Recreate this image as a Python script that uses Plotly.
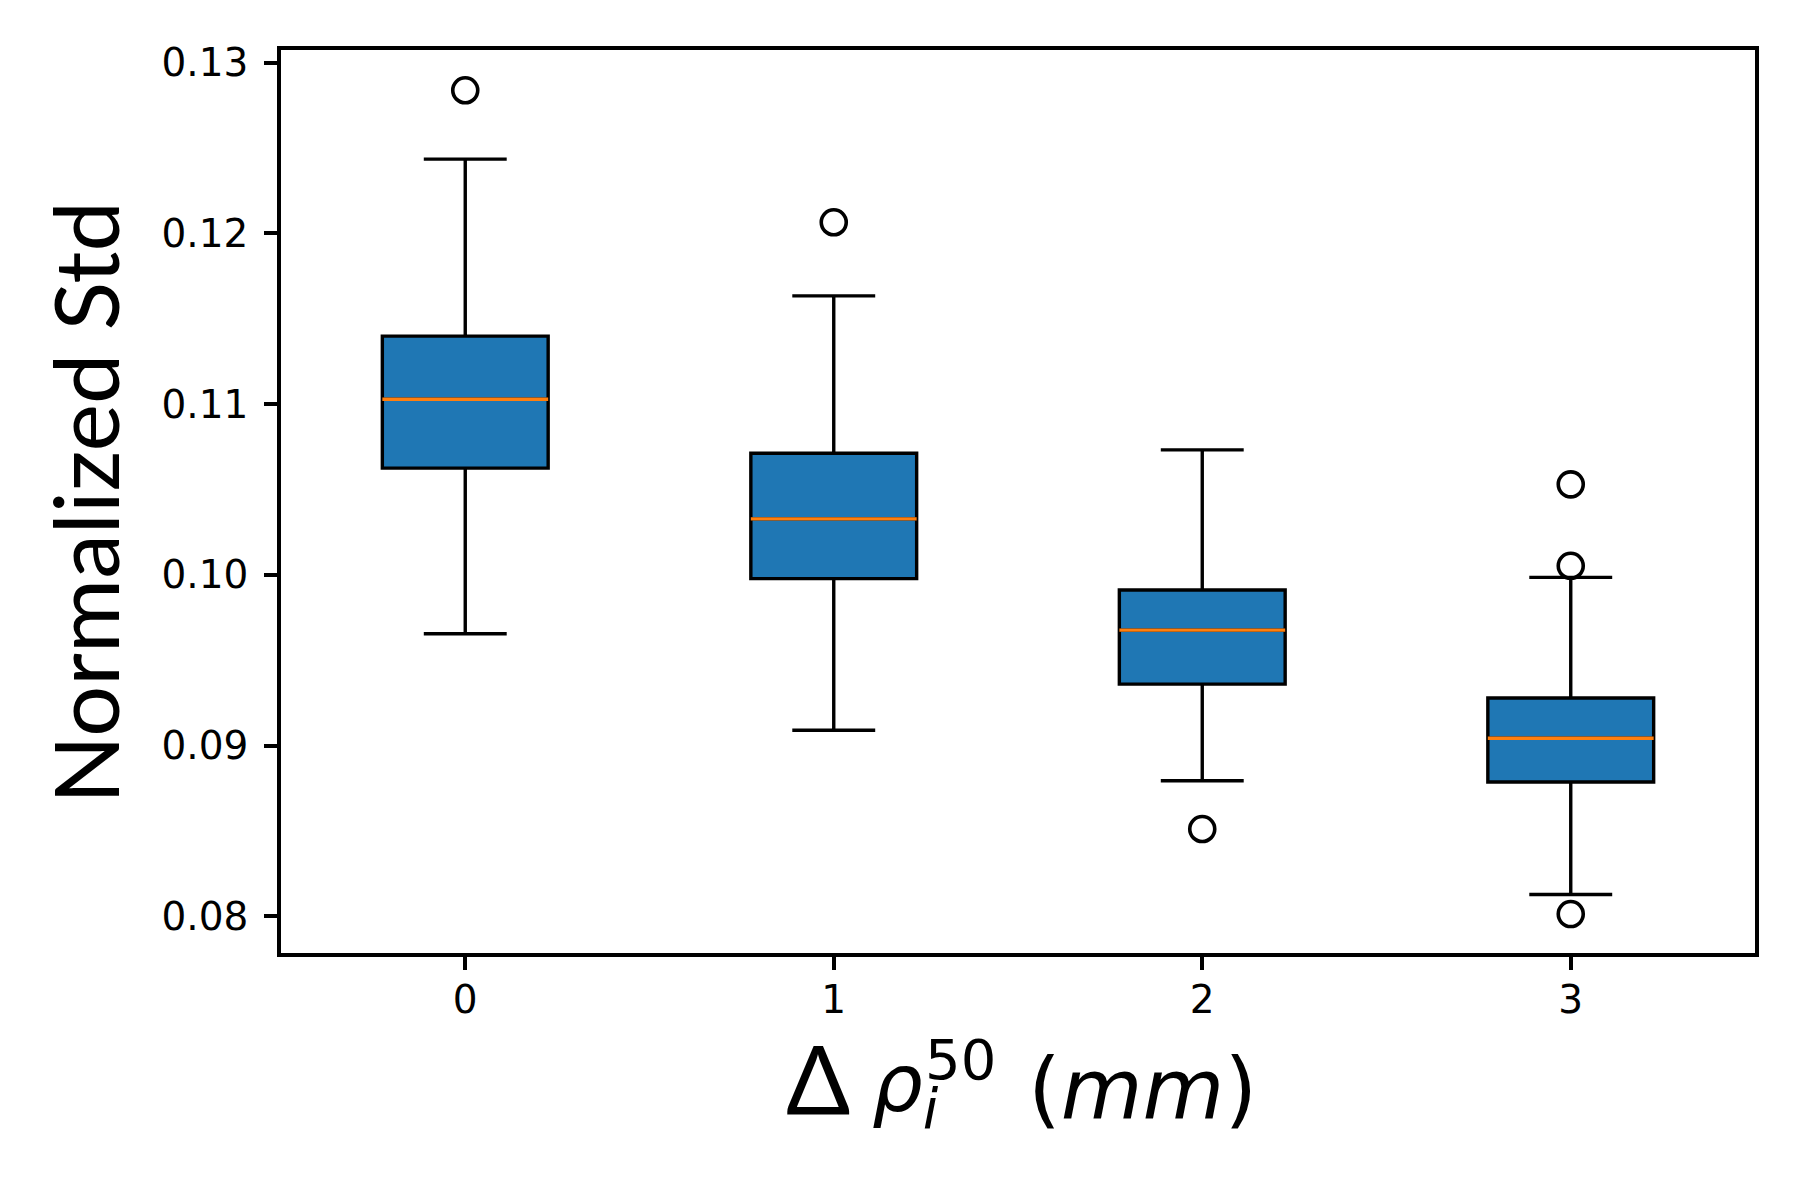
import plotly.graph_objects as go

# ---- data ----
positions = [0, 1, 2, 3]
tick_labels = ["0", "1", "2", "3"]
q1 = [0.10625, 0.09978, 0.09360, 0.08787]
median = [0.11028, 0.10328, 0.09676, 0.09043]
q3 = [0.11398, 0.10712, 0.09911, 0.09279]
lower_whisker = [0.09655, 0.09090, 0.08794, 0.08128]
upper_whisker = [0.12435, 0.11634, 0.10732, 0.09985]
outlier_x = [0, 1, 2, 3, 3, 3]
outlier_y = [0.12838, 0.12065, 0.08511, 0.10530, 0.10053, 0.08013]
y_ticks = [0.08, 0.09, 0.10, 0.11, 0.12, 0.13]

BOX_W = 0.45
BLUE = "#1f77b4"
ORANGE = "#ff7f0e"

fig = go.Figure()
fig.add_trace(go.Box(
    x=positions, q1=q1, median=median, q3=q3,
    lowerfence=lower_whisker, upperfence=upper_whisker,
    width=BOX_W, whiskerwidth=0.5,
    fillcolor=BLUE, line=dict(color="black", width=3.4),
    boxpoints=False, showlegend=False, hoverinfo="skip",
))
for p, m in zip(positions, median):
    fig.add_trace(go.Scatter(
        x=[p - BOX_W / 2, p + BOX_W / 2], y=[m, m], mode="lines",
        line=dict(color=ORANGE, width=3.4), showlegend=False, hoverinfo="skip",
    ))
fig.add_trace(go.Scatter(
    x=outlier_x, y=outlier_y, mode="markers",
    marker=dict(symbol="circle-open", size=25, color="black",
                line=dict(color="black", width=3.6)),
    showlegend=False, hoverinfo="skip",
))

axis_common = dict(
    showline=True, linecolor="black", linewidth=3.6, mirror=True,
    ticks="outside", ticklen=13, tickwidth=3.5, tickcolor="black",
    showgrid=False, zeroline=False,
    tickfont=dict(family="DejaVu Sans", size=39, color="black"),
)
fig.update_xaxes(range=[-0.5, 3.5], tickvals=positions, ticktext=tick_labels,
                 ticklabelstandoff=-4, **axis_common)
fig.update_yaxes(range=[0.07785, 0.13074], tickvals=y_ticks, tickformat=".2f",
                 ticklabelstandoff=8, **axis_common)

# the page body adds an 8px offset; compensate so the picture lines up
OFF = 8
W, H = 1800, 1200
PL, PR, PT, PB = 281, 1755, 50, 953  # plot-area edges in picture pixels
L = PL - OFF
T = PT - OFF
R = W - (PR - OFF)
B = H - (PB - OFF)
pw, ph = PR - PL, PB - PT


def px(xp):
    return (xp - PL) / pw


def py(yp):
    return (PB - yp) / ph


hand = "Comic Sans MS, xkcd Script, Humor Sans, Lato"
math = "DejaVu Sans"
ann = []
# y title
ann.append(dict(text="Normalized Std", x=px(84), y=py(503), xref="paper", yref="paper",
                textangle=-90, showarrow=False, xanchor="center", yanchor="middle",
                font=dict(family=hand, size=90, color="black")))
# x title pieces
ann.append(dict(text="Δ", x=px(784), y=py(1077), xref="paper", yref="paper",
                showarrow=False, xanchor="left", yanchor="middle",
                font=dict(family=hand, size=95, color="black")))
ann.append(dict(text="<i>ρ</i><sub><i>i</i></sub>", x=px(870), y=py(1089), xref="paper", yref="paper",
                showarrow=False, xanchor="left", yanchor="middle",
                font=dict(family=math, size=80, color="black")))
ann.append(dict(text="50", x=px(923), y=py(1059), xref="paper", yref="paper",
                showarrow=False, xanchor="left", yanchor="middle",
                font=dict(family=math, size=56, color="black")))
ann.append(dict(text="(<i>mm</i>)", x=px(1026), y=py(1089), xref="paper", yref="paper",
                showarrow=False, xanchor="left", yanchor="middle",
                font=dict(family=math, size=84, color="black")))

fig.update_layout(
    width=W, height=H,
    margin=dict(l=L, r=R, t=T, b=B, pad=0),
    paper_bgcolor="white", plot_bgcolor="white",
    annotations=ann, showlegend=False,
)

fig.write_html("out.html")
